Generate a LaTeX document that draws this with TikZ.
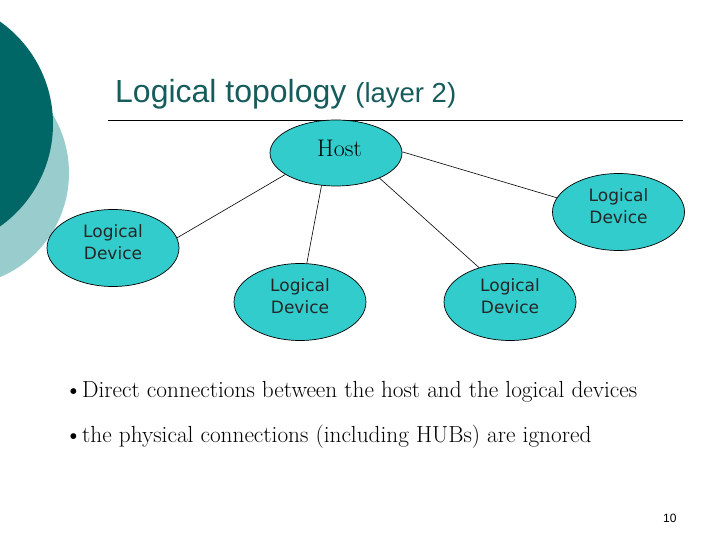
\documentclass[tikz,border=0pt]{standalone}
\usepackage{fontspec}
\setmainfont{Latin Modern Roman}
\newfontfamily\arialf{Liberation Sans}
\newfontfamily\verdf{DejaVu Sans}
\usetikzlibrary{shapes.geometric}
\definecolor{darkteal}{RGB}{0,102,102}
\definecolor{lightteal}{RGB}{153,204,204}
\definecolor{nodeteal}{RGB}{51,204,204}
\definecolor{titleteal}{RGB}{22,92,92}
\tikzset{
  dev/.style={ellipse, draw=black, line width=0.7pt, fill=nodeteal, inner sep=0pt,
    minimum width=132, minimum height=77},
  devtext/.style={font=\verdf\fontsize{17}{22}\selectfont, align=center, text=black!85},
  link/.style={draw=black, line width=0.6pt},
  bullet/.style={font=\fontsize{23.3}{26}\selectfont, anchor=base west, inner sep=0pt},
  bulletmark/.style={font=\fontsize{26}{26}\selectfont, anchor=base west, inner sep=0pt}
}
\begin{document}
\begin{tikzpicture}[x=1pt,y=-1pt]
\useasboundingbox (0,0) rectangle (720,540);
\fill[white] (0,0) rectangle (720,540);
% decorations
\begin{scope}
\clip (0,0) rectangle (720,540);
\fill[lightteal] (-44,173) circle[radius=113];
\fill[darkteal] (-72.5,124) circle[radius=125.5];
\end{scope}
% title
\node[anchor=base west, inner sep=0pt, text=titleteal] (title) at (115,103)
  {\arialf\fontsize{32}{36}\selectfont Logical topology \fontsize{27.5}{30}\selectfont(layer 2)};
\draw[line width=0.8pt] (108,120) -- (683,120);
% nodes
\node[dev, minimum width=132, minimum height=66] (host) at (336,153) {};
\node[anchor=base, inner sep=0pt, font=\fontsize{24}{28}\selectfont] (hostlabel) at (339.5,157) {Host};
\node[dev] (ld1) at (113,248) {};
\node[devtext] at ([yshift=6]ld1) {Logical\\Device};
\node[dev] (ld4) at (618.5,212) {};
\node[devtext] at ([yshift=6]ld4) {Logical\\Device};
\node[dev] (ld2) at (300,302) {};
\node[devtext] at ([yshift=6]ld2) {Logical\\Device};
\node[dev] (ld3) at (510,302) {};
\node[devtext] at ([yshift=6]ld3) {Logical\\Device};
% links
\draw[link] (host.203) -- (ld1.9);
\draw[link] (host.246) -- (ld2.80);
\draw[link] (host.330) -- (ld3.132);
\draw[link] (host.1) -- (ld4.167);
% bullets
\node[bulletmark] (bl1) at (64,398) {\textbullet};
\node[bullet] (b1) at (82,397) {Direct connections between the host and the logical devices};
\node[bulletmark] (bl2) at (64,443) {\textbullet};
\node[bullet] (b2) at (82,442) {the physical connections (including HUBs) are ignored};
\node[anchor=base west, inner sep=0pt, font=\arialf\fontsize{12}{14}\selectfont] (pg) at (663,522) {10};
\end{tikzpicture}
\end{document}
